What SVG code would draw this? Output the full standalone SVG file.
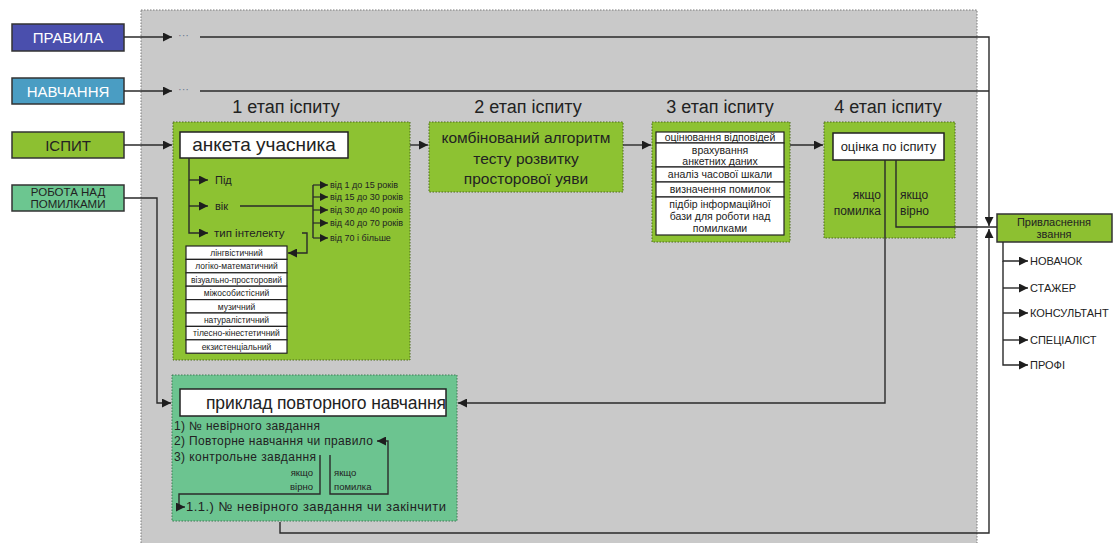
<svg xmlns="http://www.w3.org/2000/svg" width="1114" height="543" viewBox="0 0 1114 543">
<defs>
<marker id="arr" viewBox="0 0 10 10" refX="10" refY="5" markerWidth="10" markerHeight="9" markerUnits="userSpaceOnUse" orient="auto"><path d="M0,0 L10,5 L0,10 z" fill="#1e1e1e"/></marker>
<marker id="arrS" viewBox="0 0 10 10" refX="10" refY="5" markerWidth="8" markerHeight="8" markerUnits="userSpaceOnUse" orient="auto"><path d="M0,0 L10,5 L0,10 z" fill="#1e1e1e"/></marker>
</defs>
<style>
text{font-family:"Liberation Sans","DejaVu Sans",sans-serif;fill:#222}
.lbl{stroke:#333;stroke-width:1.5}
.stage{fill:#8dc232;stroke:#4d6b1c;stroke-width:1;stroke-dasharray:1.5 1.5}
.prac{fill:#6cc490;stroke:#3f7a55;stroke-width:1;stroke-dasharray:1.5 1.5}
.wb{fill:#fff;stroke:#222;stroke-width:1.5}
.wl{fill:#fff;stroke:#222;stroke-width:1.2}
.c{fill:none;stroke:#2a2a2a;stroke-width:1.4}
.ca{fill:none;stroke:#2a2a2a;stroke-width:1.4;marker-end:url(#arr)}
.cs{fill:none;stroke:#2a2a2a;stroke-width:1.2;marker-end:url(#arrS)}
.h{font-size:18px;text-anchor:middle}
.mid{text-anchor:middle}
.dots{font-size:11px;fill:#6a7890}
</style>
<rect x="141" y="10" width="836" height="545" fill="#c9c9c9" stroke="#7a7a7a" stroke-width="1" stroke-dasharray="1.5 1.5"/>

<g id="pravila"><rect class="lbl" x="12" y="24" width="112" height="27" fill="#4a4fad"/><text x="68" y="43" class="mid" font-size="15" style="fill:#fff">ПРАВИЛА</text></g>
<g id="navchannia"><rect class="lbl" x="12" y="78" width="112" height="26" fill="#4a9dc3"/><text x="68" y="97" class="mid" font-size="15" style="fill:#fff">НАВЧАННЯ</text></g>
<g id="ispyt"><rect class="lbl" x="12" y="132" width="112" height="26" fill="#8dc031"/><text x="68" y="151" class="mid" font-size="15">ІСПИТ</text></g>
<g id="robota"><rect class="lbl" x="12" y="185" width="112" height="26" fill="#6cc690"/><text x="68" y="196" class="mid" font-size="11.5">РОБОТА НАД</text><text x="68" y="208" class="mid" font-size="11.5">ПОМИЛКАМИ</text></g>

<g id="stage1">
<text x="286" y="113" class="h">1 етап іспиту</text>
<rect class="stage" x="173" y="122" width="237" height="238"/>
<rect class="wb" x="180" y="132" width="168" height="26"/>
<text x="264" y="151" class="mid" font-size="19">анкета учасника</text>
<text x="215" y="184" font-size="11">Під</text>
<text x="215" y="210" font-size="11">вік</text>
<text x="214" y="237" font-size="11.5">тип інтелекту</text>
<g font-size="9">
<text x="330" y="188">від 1 до 15 років</text>
<text x="330" y="200">від 15 до 30 років</text>
<text x="330" y="213">від 30 до 40 років</text>
<text x="330" y="226">від 40 до 70 років</text>
<text x="330" y="241">від 70 і більше</text>
</g>
<g id="types">
<rect class="wl" x="186" y="246" width="101" height="13.4"/>
<rect class="wl" x="186" y="259.4" width="101" height="13.4"/>
<rect class="wl" x="186" y="272.8" width="101" height="13.4"/>
<rect class="wl" x="186" y="286.2" width="101" height="13.4"/>
<rect class="wl" x="186" y="299.6" width="101" height="13.4"/>
<rect class="wl" x="186" y="313" width="101" height="13.4"/>
<rect class="wl" x="186" y="326.4" width="101" height="13.4"/>
<rect class="wl" x="186" y="339.8" width="101" height="13.4"/>
<g font-size="8.5" class="mid">
<text x="236.5" y="256">лінгвістичний</text>
<text x="236.5" y="269.4">логіко-математичний</text>
<text x="236.5" y="282.8">візуально-просторовий</text>
<text x="236.5" y="296.2">міжособистісний</text>
<text x="236.5" y="309.6">музичний</text>
<text x="236.5" y="323">натуралістичний</text>
<text x="236.5" y="336.4">тілесно-кінестетичний</text>
<text x="236.5" y="349.8">екзистенціальний</text>
</g>
</g>
</g>

<g id="stage2">
<text x="528" y="113" class="h">2 етап іспиту</text>
<rect class="stage" x="429" y="122" width="194" height="70"/>
<g font-size="15.5" class="mid">
<text x="526" y="143">комбінований алгоритм</text>
<text x="526" y="164">тесту розвитку</text>
<text x="526" y="184">просторової уяви</text>
</g>
</g>

<g id="stage3">
<text x="720" y="113" class="h">3 етап іспиту</text>
<rect class="stage" x="652" y="122" width="138" height="120"/>
<rect class="wl" x="656" y="132" width="128" height="11"/>
<rect class="wl" x="656" y="143" width="128" height="24"/>
<rect class="wl" x="656" y="167" width="128" height="15"/>
<rect class="wl" x="656" y="182" width="128" height="15"/>
<rect class="wl" x="656" y="197" width="128" height="38"/>
<g font-size="10.5" class="mid">
<text x="720" y="141">оцінювання відповідей</text>
<text x="720" y="154">врахування</text>
<text x="720" y="165">анкетних даних</text>
<text x="720" y="178">аналіз часової шкали</text>
<text x="720" y="193">визначення помилок</text>
<text x="720" y="208">підбір інформаційної</text>
<text x="720" y="220">бази для роботи над</text>
<text x="720" y="232">помилками</text>
</g>
</g>

<g id="stage4">
<text x="888" y="113" class="h">4 етап іспиту</text>
<rect class="stage" x="824" y="122" width="131" height="116"/>
<rect class="wb" x="833" y="133" width="111" height="27"/>
<text x="888.5" y="151" class="mid" font-size="13">оцінка по іспиту</text>
<text x="881" y="199" font-size="12" text-anchor="end">якщо</text>
<text x="881" y="215" font-size="12" text-anchor="end">помилка</text>
<text x="900" y="199" font-size="12">якщо</text>
<text x="900" y="215" font-size="12">вірно</text>
</g>

<g id="zvannia">
<rect class="lbl" x="997" y="214" width="115" height="28" fill="#8dc031"/>
<text x="1054" y="226" class="mid" font-size="11">Привласнення</text>
<text x="1054" y="238" class="mid" font-size="11">звання</text>
<g font-size="11">
<text x="1030" y="265">НОВАЧОК</text>
<text x="1030" y="292">СТАЖЕР</text>
<text x="1030" y="317">КОНСУЛЬТАНТ</text>
<text x="1030" y="344">СПЕЦІАЛІСТ</text>
<text x="1030" y="369">ПРОФІ</text>
</g>
</g>

<g id="practice">
<rect class="prac" x="172" y="375" width="285" height="146"/>
<rect class="wb" x="180" y="389" width="266" height="27"/>
<text x="446" y="409" font-size="17.5" text-anchor="end" textLength="240">приклад повторного навчання</text>
<g font-size="12">
<text x="174" y="430" textLength="146">1) № невірного завдання</text>
<text x="174" y="445" textLength="199">2) Повторне навчання чи правило</text>
<text x="174" y="461" textLength="142">3) контрольне завдання</text>
<text x="186" y="511" font-size="13" textLength="260">1.1.) № невірного завдання чи закінчити</text>
</g>
<g font-size="9.5">
<text x="313" y="476" text-anchor="end">якщо</text>
<text x="313" y="490" text-anchor="end">вірно</text>
<text x="334" y="476">якщо</text>
<text x="334" y="490">помилка</text>
</g>
</g>

<g id="connectors">
<path class="ca" d="M124,37 H172"/>
<text x="178" y="39" class="dots">···</text>
<path class="ca" d="M200,37 H989 V226"/>
<path class="ca" d="M124,91 H172"/>
<text x="178" y="93" class="dots">···</text>
<path class="c" d="M200,91 H989"/>
<path class="ca" d="M124,145 H172"/>
<path class="ca" d="M124,198 H157 V403 H171"/>
<path class="ca" d="M410,145 H428"/>
<path class="ca" d="M623,145 H651"/>
<path class="ca" d="M790,145 H823"/>
<path class="ca" d="M885,160 V403 H458"/>
<path class="c" d="M896,160 V227 H997"/>
<path class="ca" d="M280,522 V533 H989 V229"/>
<path class="ca" d="M189,158 V233 H208"/>
<path class="ca" d="M189,180 H208"/>
<path class="ca" d="M189,206 H208"/>
<path class="c" d="M240,206 H313"/>
<path class="c" d="M313,185 V238"/>
<path class="cs" d="M313,185 H328"/>
<path class="cs" d="M313,197 H328"/>
<path class="cs" d="M313,210 H328"/>
<path class="cs" d="M313,223 H328"/>
<path class="cs" d="M313,238 H328"/>
<path class="ca" d="M302,233 H307 V253 H288"/>
<path class="ca" d="M1003,242 V261 H1028"/>
<path class="ca" d="M1003,288 H1028"/>
<path class="ca" d="M1003,313 H1028"/>
<path class="ca" d="M1003,340 H1028"/>
<path class="ca" d="M1003,261 V365 H1028"/>
<path class="c" d="M320,455 V494 H179 V507"/>
<path class="ca" d="M179,507 H185"/>
<path class="ca" d="M330,455 V494 H388 V441 H377"/>
</g>
</svg>
